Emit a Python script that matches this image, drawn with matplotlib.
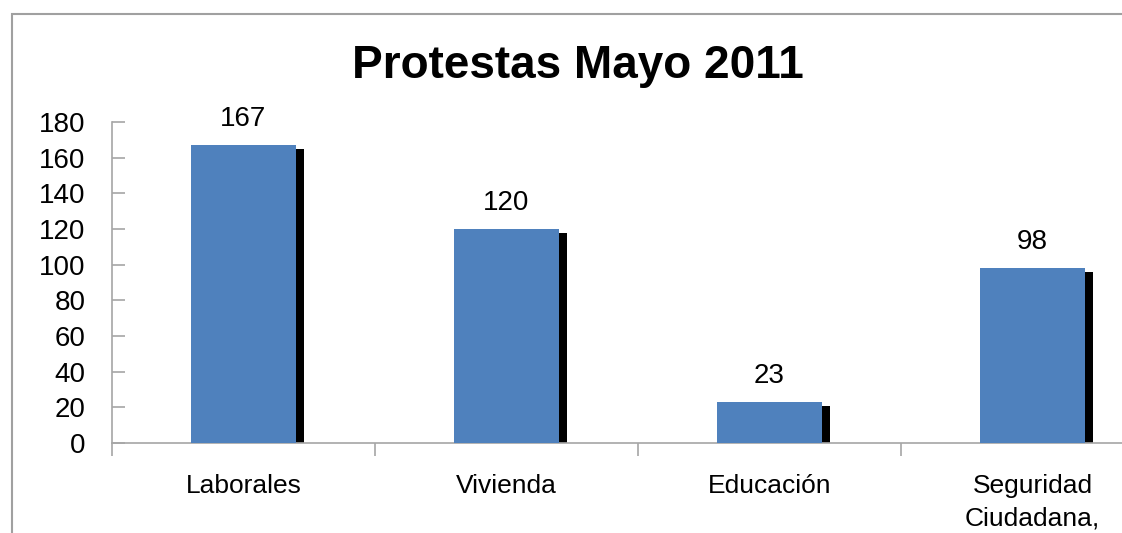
import matplotlib
matplotlib.use("Agg")
import matplotlib.pyplot as plt
import matplotlib.patches as mpatches
import numpy as np

categories = ["Laborales", "Vivienda", "Educación", "Seguridad\nCiudadana,"]
values = [167, 120, 23, 98]
yticks = [0, 20, 40, 60, 80, 100, 120, 140, 160, 180]
title = "Protestas Mayo 2011"

plt.rcParams['font.family'] = ['Liberation Sans', 'DejaVu Sans']

W, H = 1122, 533
fig = plt.figure(figsize=(W / 100, H / 100), dpi=100)
fig.patch.set_facecolor('white')

# outer chart border (cropped at right and bottom)
border = mpatches.Rectangle((12 / W, -0.2), 1.2, (H - 14) / H + 0.2,
                            transform=fig.transFigure, fill=False,
                            edgecolor='#a0a0a0', linewidth=1.5, zorder=0)
fig.patches.append(border)

left = 112 / W
bottom = (H - 443) / H
top = (H - 122) / H
right = 1164 / W
ax = fig.add_axes([left, bottom, right - left, top - bottom])
ax.set_facecolor('none')

x = np.arange(len(categories))
bw = 0.4
px_per_cat = (1164 - 112) / 4
px_per_unit = (443 - 122) / 180
sx = 8 / px_per_cat
sy = 4 / px_per_unit

ax.bar(x + sx, [v - sy for v in values], width=bw, color='black', zorder=2)
ax.bar(x, values, width=bw, color='#4F81BD', zorder=3)

for xi, v in zip(x, values):
    ax.annotate(str(v), (xi, v), xytext=(0, 13.5), textcoords='offset points',
                ha='center', va='baseline', fontsize=20, color='black')

ax.set_xlim(-0.5, len(categories) - 0.5)
ax.set_ylim(0, 180)

for s in ['top', 'right']:
    ax.spines[s].set_visible(False)
for s in ['left', 'bottom']:
    ax.spines[s].set_color('#a6a6a6')
    ax.spines[s].set_linewidth(1.2)

ax.set_yticks(yticks)
ax.set_yticklabels([str(t) for t in yticks])
ax.tick_params(axis='y', direction='in', length=9, width=1.2, color='#a6a6a6',
               labelsize=20, pad=19)

ax.set_xticks(np.arange(len(categories) + 1) - 0.5)
ax.set_xticklabels([])
ax.set_xticks(x, minor=True)
ax.set_xticklabels(categories, minor=True, fontsize=19, linespacing=1.45)
ax.tick_params(axis='x', which='major', direction='out', length=9, width=1.2,
               color='#a6a6a6')
ax.tick_params(axis='x', which='minor', length=0, pad=22.5)

fig.text(578 / W, (H - 66) / H, title, ha='center', va='center',
         fontsize=33, fontweight='bold', color='black')

fig.savefig("out.png", dpi=100)
